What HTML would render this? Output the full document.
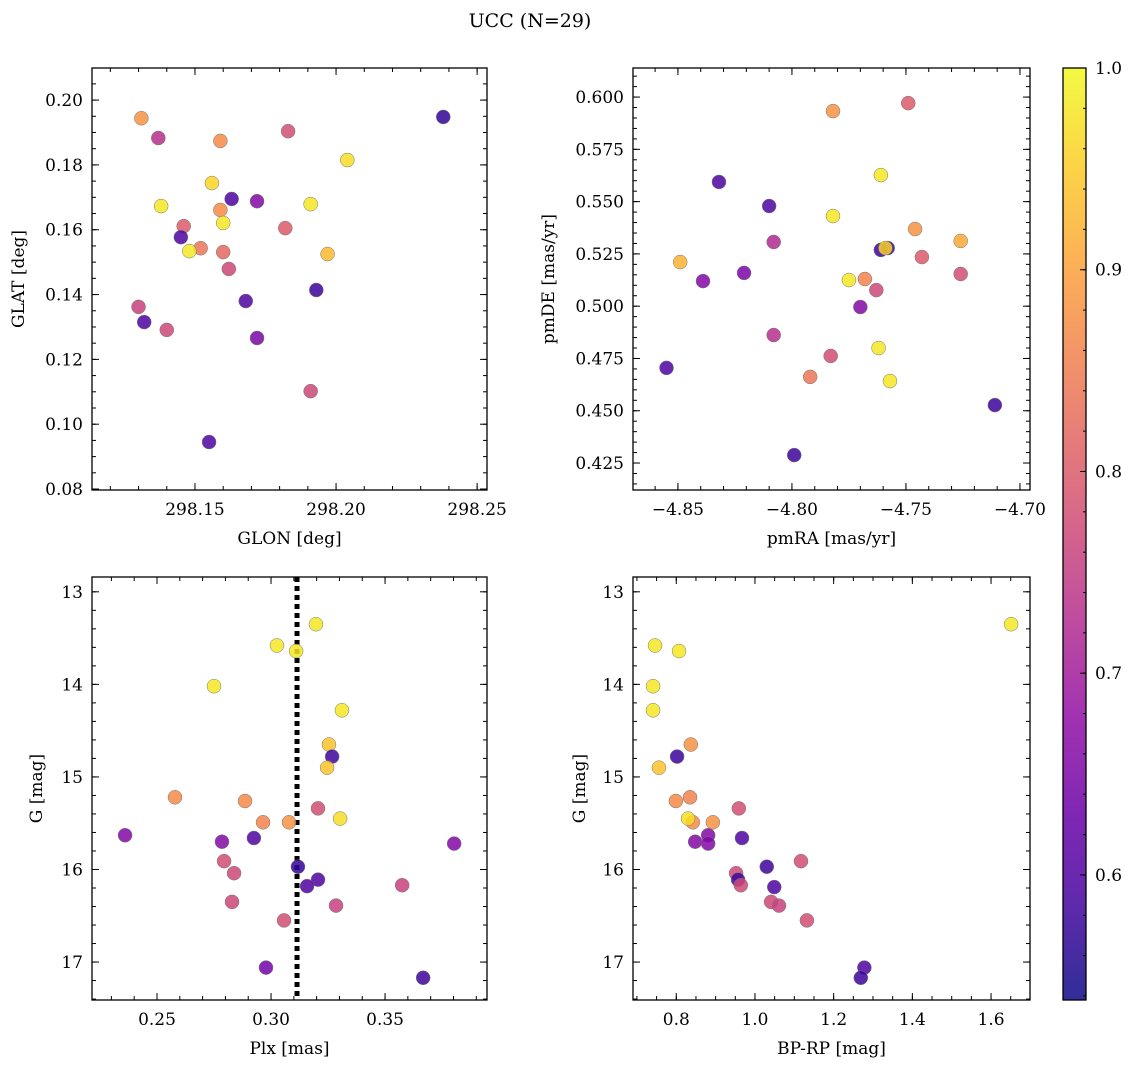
<!DOCTYPE html>
<html><head><meta charset="utf-8"><style>
body{margin:0;background:#fff;}
svg{display:block;font-family:"DejaVu Serif","Liberation Serif",serif;}
</style></head><body>
<svg id="fig" width="1136" height="1068" viewBox="0 0 1136 1068" xmlns="http://www.w3.org/2000/svg">
<text x="530" y="27" text-anchor="middle" font-size="19">UCC (N=29)</text>
</svg>
<script>
// Panel 1: GLON / GLAT
const glon = [298.131,298.137,298.238,298.159,298.183,298.204,298.156,298.138,298.163,298.172,298.191,298.159,298.160,298.146,298.182,298.145,298.152,298.148,298.197,298.160,298.162,298.130,298.132,298.140,298.168,298.193,298.172,298.191,298.155];
const glat = [0.1944,0.1883,0.1948,0.1874,0.1904,0.1815,0.1744,0.1673,0.1695,0.1688,0.1679,0.1661,0.1621,0.1611,0.1605,0.1577,0.1543,0.1534,0.1525,0.1531,0.1479,0.1362,0.1315,0.1291,0.1380,0.1414,0.1266,0.1102,0.0945];
const prob1 = [0.88,0.73,0.57,0.87,0.78,0.97,0.96,0.98,0.6,0.66,0.98,0.87,0.98,0.8,0.8,0.6,0.84,0.98,0.93,0.82,0.77,0.76,0.6,0.77,0.6,0.58,0.65,0.77,0.6];
// Panel 2: pmRA / pmDE
const pmra = [-4.782,-4.749,-4.761,-4.832,-4.810,-4.782,-4.746,-4.808,-4.726,-4.761,-4.758,-4.759,-4.821,-4.743,-4.849,-4.726,-4.775,-4.768,-4.839,-4.763,-4.770,-4.808,-4.762,-4.783,-4.792,-4.757,-4.855,-4.711,-4.799];
const pmde = [0.5933,0.5971,0.5627,0.5594,0.5479,0.5431,0.5369,0.5307,0.5312,0.5269,0.5278,0.5278,0.5159,0.5235,0.5211,0.5154,0.5125,0.5130,0.5120,0.5077,0.4996,0.4862,0.4800,0.4762,0.4662,0.4642,0.4705,0.4527,0.4288];
const prob2 = [0.88,0.8,0.98,0.6,0.6,0.98,0.88,0.72,0.91,0.58,0.57,0.96,0.65,0.8,0.92,0.78,0.98,0.86,0.66,0.77,0.66,0.73,0.98,0.78,0.84,0.98,0.6,0.58,0.58];
// Panel 3: Plx / G
const plx = [0.3197,0.3026,0.311,0.275,0.3311,0.3254,0.3268,0.3246,0.2579,0.2886,0.3206,0.2965,0.3079,0.3303,0.236,0.2785,0.2925,0.3803,0.3118,0.2794,0.2838,0.3206,0.3158,0.3575,0.2829,0.3285,0.3057,0.2978,0.3667];
const gmag = [13.35,13.58,13.64,14.02,14.28,14.65,14.78,14.90,15.22,15.26,15.34,15.49,15.49,15.45,15.63,15.70,15.66,15.72,15.97,15.91,16.04,16.11,16.18,16.17,16.35,16.39,16.55,17.06,17.17];
const prob3 = [0.98,0.98,0.98,0.98,0.98,0.94,0.58,0.94,0.87,0.87,0.78,0.86,0.88,0.97,0.66,0.66,0.6,0.66,0.57,0.78,0.77,0.6,0.6,0.76,0.77,0.76,0.78,0.64,0.58];
const plxMedian = 0.3114;
// Panel 4: BP-RP / G
const bprp = [1.651,0.746,0.807,0.741,0.741,0.837,0.802,0.756,0.835,0.799,0.959,0.842,0.893,0.830,0.881,0.967,0.848,0.881,1.117,1.030,0.952,0.957,0.964,1.049,1.041,1.061,1.132,1.278,1.269];
const gmag4 = [13.35,13.58,13.64,14.02,14.28,14.65,14.78,14.90,15.22,15.26,15.34,15.49,15.49,15.45,15.63,15.66,15.70,15.72,15.91,15.97,16.04,16.11,16.17,16.19,16.35,16.39,16.55,17.06,17.17];
const prob4 = [0.98,0.98,0.98,0.98,0.98,0.88,0.58,0.94,0.86,0.87,0.78,0.87,0.88,0.97,0.66,0.6,0.66,0.66,0.78,0.58,0.77,0.58,0.77,0.6,0.77,0.76,0.78,0.6,0.58];
// tick labels
const ticks1x = [298.15,298.20,298.25], ticks1y = [0.08,0.10,0.12,0.14,0.16,0.18,0.20];
const ticks2x = [-4.85,-4.80,-4.75,-4.70], ticks2y = [0.425,0.450,0.475,0.500,0.525,0.550,0.575,0.600];
const ticks3x = [0.25,0.30,0.35], ticksG = [13,14,15,16,17];
const ticks4x = [0.8,1.0,1.2,1.4,1.6];
const cbTicks = [0.6,0.7,0.8,0.9,1.0];
const VMIN = 0.538, VMAX = 1.0;

const NS = "http://www.w3.org/2000/svg";
const svg = document.getElementById('fig');
function mk(tag, attrs, parent){const e=document.createElementNS(NS,tag);for(const k in attrs)e.setAttribute(k,attrs[k]);(parent||svg).appendChild(e);return e;}
const PL = [[0,13,8,135],[0.1,65,4,157],[0.2,106,0,168],[0.3,143,13,164],[0.4,177,42,144],[0.5,204,71,120],[0.6,225,100,98],[0.7,242,132,75],[0.8,252,166,54],[0.9,252,206,37],[1,240,249,33]];
function plasmaT(t){t=Math.max(0,Math.min(1,t));
 for(let i=0;i<PL.length-1;i++){if(t<=PL[i+1][0]){const a=PL[i],b=PL[i+1],f=(t-a[0])/(b[0]-a[0]);return `rgb(${Math.round(a[1]+f*(b[1]-a[1]))},${Math.round(a[2]+f*(b[2]-a[2]))},${Math.round(a[3]+f*(b[3]-a[3]))})`;}}return 'rgb(240,249,33)';}
function plasma(v){return plasmaT((v-VMIN)/(VMAX-VMIN));}
function fmt(v,d){const s=v.toFixed(d);return v<0?'\u2212'+s.slice(1):s;}

function panel(o){
 const g=mk('g',{});
 
 
 const sx=v=>o.x0+(v-o.xd[0])/(o.xd[1]-o.xd[0])*(o.x1-o.x0);
 const sy=o.inv?(v=>o.y0+(v-o.yd[0])/(o.yd[1]-o.yd[0])*(o.y1-o.y0)):(v=>o.y1-(v-o.yd[0])/(o.yd[1]-o.yd[0])*(o.y1-o.y0));
 const tk=(x1,y1,x2,y2)=>mk('line',{x1,y1,x2,y2,stroke:'#000','stroke-width':1},g);
 for(let v=Math.ceil(o.xd[0]/o.xm-1e-6)*o.xm; v<=o.xd[1]; v+=o.xm){const x=sx(v);tk(x,o.y1,x,o.y1-4);tk(x,o.y0,x,o.y0+4);}
 const ylo=Math.min(...o.yd),yhi=Math.max(...o.yd);
 for(let v=Math.ceil(ylo/o.ym-1e-6)*o.ym; v<=yhi; v+=o.ym){const y=sy(v);tk(o.x0,y,o.x0+4,y);tk(o.x1,y,o.x1-4,y);}
 o.xt.forEach(v=>{const x=sx(v);tk(x,o.y1,x,o.y1-7);tk(x,o.y0,x,o.y0+7);
   const t=mk('text',{x,y:o.y1+25,'text-anchor':'middle','font-size':17},g);t.textContent=fmt(v,o.xdec);
   
   });
 o.yt.forEach(v=>{const y=sy(v);tk(o.x0,y,o.x0+7,y);tk(o.x1,y,o.x1-7,y);
   const t=mk('text',{x:o.x0-9,y:y+6,'text-anchor':'end','font-size':17},g);t.textContent=fmt(v,o.ydec);
   
   });
 if(o.vline!==undefined){const l=mk('line',{x1:sx(o.vline),x2:sx(o.vline),y1:o.y0,y2:o.y1,stroke:'#000','stroke-width':5,'stroke-dasharray':'5,4'},g);
   
   }
 o.xs.forEach((xv,i)=>{const c=mk('circle',{cx:sx(xv),cy:sy(o.ys[i]),r:7,fill:plasma(o.p[i]),'fill-opacity':0.85,stroke:'#777','stroke-width':0.5},g);
   
   });
 const fr=mk('rect',{x:o.x0,y:o.y0,width:o.x1-o.x0,height:o.y1-o.y0,fill:'none',stroke:'#000','stroke-width':1.3},g);
 
 
 const xl=mk('text',{x:(o.x0+o.x1)/2,y:o.y1+54,'text-anchor':'middle','font-size':17},g);xl.textContent=o.xl;
 
 
 const yy=(o.y0+o.y1)/2;
 const yl=mk('text',{x:o.ylx,y:yy,'text-anchor':'middle','font-size':17,transform:`rotate(-90 ${o.ylx} ${yy})`},g);yl.textContent=o.yl;
 
 
}
panel({name:'glon-glat-panel',x0:92,x1:487,y0:68,y1:490,xd:[298.1135,298.2535],yd:[0.0797,0.2099],xs:glon,ys:glat,p:prob1,xt:ticks1x,yt:ticks1y,xm:0.01,ym:0.005,xdec:2,ydec:2,xl:'GLON [deg]',yl:'GLAT [deg]',ylx:24});
panel({name:'pm-panel',x0:633,x1:1030,y0:68,y1:490,xd:[-4.8697,-4.6956],yd:[0.4121,0.6139],xs:pmra,ys:pmde,p:prob2,xt:ticks2x,yt:ticks2y,xm:0.01,ym:0.005,xdec:2,ydec:3,xl:'pmRA [mas/yr]',yl:'pmDE [mas/yr]',ylx:554});
panel({name:'plx-g-panel',x0:92,x1:487,y0:577,y1:1000,xd:[0.2215,0.3947],yd:[12.84,17.41],inv:true,xs:plx,ys:gmag,p:prob3,xt:ticks3x,yt:ticksG,xm:0.01,ym:0.2,xdec:2,ydec:0,xl:'Plx [mas]',yl:'G [mag]',ylx:42,vline:plxMedian});
panel({name:'cmd-panel',x0:633,x1:1030,y0:577,y1:1000,xd:[0.690,1.699],yd:[12.84,17.41],inv:true,xs:bprp,ys:gmag4,p:prob4,xt:ticks4x,yt:ticksG,xm:0.05,ym:0.2,xdec:1,ydec:0,xl:'BP-RP [mag]',yl:'G [mag]',ylx:585});

// colorbar
const cb=mk('g',{});


const cx0=1063,cx1=1086,cy0=68,cy1=1000;
const cy=v=>cy1-(v-VMIN)/(VMAX-VMIN)*(cy1-cy0);
const defs=mk('defs',{});
const grad=mk('linearGradient',{id:'cbgrad',x1:0,y1:1,x2:0,y2:0},defs);
for(let i=0;i<=20;i++){mk('stop',{offset:i/20,'stop-color':plasmaT(i/20),'stop-opacity':0.85},grad);}
mk('rect',{x:cx0,y:cy0,width:cx1-cx0,height:cy1-cy0,fill:'url(#cbgrad)'},cb);
mk('rect',{x:cx0,y:cy0,width:cx1-cx0,height:cy1-cy0,fill:'none',stroke:'#000','stroke-width':1.3},cb);
for(let v=0.54;v<=1.0001;v+=0.02){mk('line',{x1:cx1,x2:cx1-3,y1:cy(v),y2:cy(v),stroke:'#000'},cb);}
cbTicks.forEach(v=>{mk('line',{x1:cx1,x2:cx1-6,y1:cy(v),y2:cy(v),stroke:'#000'},cb);
 const t=mk('text',{x:cx1+9,y:cy(v)+6,'font-size':17},cb);t.textContent=v.toFixed(1);
 
 });
</script>
</body></html>
